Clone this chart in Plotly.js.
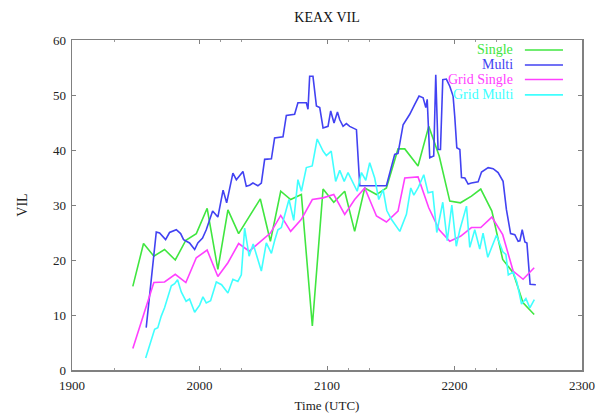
<!DOCTYPE html>
<html>
<head>
<meta charset="utf-8">
<script src="https://cdn.plot.ly/plotly-3.0.1.min.js"></script>
<style>
html,body{margin:0;padding:0;background:#fff;}
#chart{width:603px;height:415px;}
</style>
</head>
<body>
<div id="chart"></div>
<script>
// Time axis values (labels 1900..2300 UTC)
var singleTimes = [1947.7, 1956.1, 1964.2, 1972.6, 1981.0, 1989.3, 1997.5, 2006.0, 2014.4, 2022.3,
  2030.7, 2039.0, 2047.7, 2055.6, 2063.7, 2071.5, 2079.9, 2088.5, 2096.9, 2105.3,
  2113.9, 2121.7, 2129.6, 2138.8, 2146.6, 2155.7, 2161.0, 2171.4, 2179.8, 2188.0,
  2196.3, 2204.7, 2213.3, 2220.6, 2229.3, 2237.8, 2246.0, 2253.8, 2262.5];
var singleVil = [15.2, 23.0, 20.7, 21.9, 20.0, 23.6, 24.8, 29.4, 18.3, 29.1,
  24.8, 27.9, 31.1, 23.4, 32.5, 31.0, 31.9, 8.0, 32.9, 30.5,
  32.5, 25.2, 33.1, 31.9, 33.1, 40.2, 40.2, 37.1, 44.3, 38.9,
  30.7, 30.4, 31.6, 32.9, 28.9, 20.1, 17.7, 12.2, 10.1];
var gridSingleVil = [3.9, 10.2, 15.9, 16.0, 17.4, 15.9, 20.4, 21.8, 17.0, 19.5,
  23.0, 21.6, 23.4, 24.9, 28.1, 25.2, 27.4, 31.0, 31.3, 31.9,
  28.3, 31.0, 33.1, 28.0, 26.9, 28.9, 34.9, 35.1, 29.5, 25.5,
  23.4, 24.3, 25.9, 25.9, 27.8, 24.6, 18.0, 16.5, 18.6];

var multiTimes = [1958.2, 1966.1, 1968.7, 1973.4, 1976.5, 1981.8, 1985.2, 1987.5, 1992.2, 1996.2,
  1998.7, 2002.4, 2005.3, 2007.9, 2010.3, 2014.4, 2018.5, 2021.3, 2026.2, 2028.9,
  2031.4, 2034.1, 2036.7, 2039.3, 2041.9, 2045.8, 2048.5, 2051.1, 2056.4, 2058.9,
  2065.5, 2068.1, 2074.6, 2077.2, 2083.8, 2085.1, 2086.4, 2089.0, 2091.7, 2094.3,
  2096.9, 2100.8, 2102.9, 2105.5, 2108.2, 2110.0, 2112.6, 2115.2, 2117.8, 2123.1,
  2125.7, 2146.6, 2153.1, 2155.7, 2159.7, 2164.9, 2168.8, 2172.2, 2175.4, 2177.5,
  2178.6, 2180.6, 2183.7, 2185.3, 2187.1, 2189.0, 2190.8, 2193.6, 2196.3, 2198.9,
  2200.2, 2201.8, 2204.2, 2205.5, 2208.1, 2210.7, 2213.3, 2218.5, 2221.2, 2226.4,
  2230.3, 2234.2, 2238.1, 2240.7, 2244.0, 2247.3, 2249.9, 2251.3, 2253.1, 2255.2,
  2256.8, 2259.3, 2263.8];
var multiVil = [7.7, 25.1, 24.9, 23.7, 25.0, 25.5, 24.8, 23.7, 23.1, 21.9,
  23.1, 24.0, 25.5, 27.4, 28.9, 27.8, 32.7, 30.4, 35.8, 34.6,
  35.3, 36.1, 33.4, 33.6, 34.0, 33.5, 34.0, 38.3, 38.4, 42.2,
  42.4, 46.3, 46.5, 48.6, 48.6, 47.4, 53.4, 53.4, 48.0, 47.7,
  44.0, 44.3, 47.1, 44.9, 46.9, 45.5, 44.3, 44.8, 44.3, 43.7,
  33.5, 33.5, 39.2, 39.4, 44.6, 46.5, 48.3, 49.8, 49.5, 47.7,
  49.2, 38.6, 38.9, 53.7, 40.1, 40.1, 52.8, 52.9, 51.6, 49.8,
  46.1, 40.4, 40.1, 35.0, 34.9, 33.8, 34.0, 34.2, 36.0, 36.8,
  36.6, 35.9, 34.3, 29.2, 24.8, 24.6, 23.4, 23.5, 25.5, 23.3,
  23.1, 15.6, 15.5];

var gridMultiTimes = [1957.8, 1964.8, 1967.3, 1970.0, 1972.6, 1977.9, 1980.5, 1982.8, 1985.7, 1989.5,
  1992.2, 1996.2, 2000.1, 2002.7, 2005.3, 2008.7, 2013.2, 2017.3, 2022.3, 2026.2,
  2030.1, 2032.8, 2035.4, 2038.9, 2042.1, 2048.5, 2052.4, 2056.4, 2058.9, 2061.5,
  2064.2, 2070.2, 2073.9, 2077.2, 2079.9, 2083.8, 2088.4, 2092.3, 2096.9, 2099.5,
  2103.3, 2106.8, 2110.0, 2113.5, 2116.5, 2120.6, 2123.7, 2127.0, 2130.4, 2133.5,
  2137.4, 2140.6, 2144.0, 2146.9, 2150.5, 2157.1, 2162.3, 2165.7, 2168.1, 2171.4,
  2175.9, 2179.3, 2182.9, 2186.1, 2190.8, 2194.3, 2197.9, 2201.4, 2204.2, 2209.4,
  2212.0, 2215.9, 2219.8, 2222.4, 2226.1, 2232.9, 2237.9, 2240.3, 2242.2, 2246.0,
  2248.9, 2252.6, 2256.0, 2259.1, 2262.6];
var gridMultiVil = [2.2, 7.4, 7.7, 9.8, 11.3, 15.3, 15.7, 16.4, 14.2, 12.5,
  12.9, 10.5, 11.8, 13.3, 12.2, 12.6, 16.0, 15.5, 14.0, 16.5,
  16.1, 17.3, 25.8, 20.7, 22.9, 18.0, 23.1, 21.2, 23.5, 25.5,
  25.9, 31.0, 27.2, 34.6, 32.5, 36.8, 37.1, 42.0, 39.8, 39.0,
  39.8, 34.3, 36.3, 34.3, 35.9, 34.0, 32.5, 35.9, 34.5, 37.7,
  34.9, 31.0, 32.8, 29.0, 27.4, 25.2, 28.3, 33.1, 31.8, 33.1,
  35.5, 32.2, 32.4, 25.0, 30.5, 23.5, 30.0, 22.5, 25.5, 29.8,
  22.3, 25.5, 22.0, 24.9, 20.5, 24.5, 21.5, 21.0, 17.3, 17.8,
  16.0, 12.0, 13.0, 11.3, 12.8];

var seriesNames = ["Single", "Multi", "Grid Single", "Grid Multi"];
var seriesColors = ["#40e640", "#4242f2", "#ff40ff", "#40ffff"];
var xTickVals = [1900, 2000, 2100, 2200, 2300];
var yTickVals = [0, 10, 20, 30, 40, 50, 60];

var serif = "Liberation Serif, Times New Roman, serif";

var xs = [singleTimes, multiTimes, singleTimes, gridMultiTimes];
var ys = [singleVil, multiVil, gridSingleVil, gridMultiVil];
var traces = seriesNames.map(function(n, i) {
  return {x: xs[i], y: ys[i], type: "scatter", mode: "lines", name: n,
    line: {color: seriesColors[i], width: 1.6}, showlegend: false};
});

// legend drawn gnuplot-style: text right-aligned, line sample on the right
var legY = [0.9697, 0.9244, 0.8805, 0.8336];
var annotations = [];
var shapes = [];
seriesNames.forEach(function(n, i) {
  annotations.push({xref: "paper", yref: "paper", x: 0.8685, y: legY[i], xanchor: "right", yanchor: "middle",
    text: n, showarrow: false, font: {family: serif, size: 14, color: seriesColors[i]}});
  shapes.push({type: "line", xref: "paper", yref: "paper", x0: 0.888, x1: 0.9627, y0: legY[i], y1: legY[i],
    line: {color: seriesColors[i], width: 1.6}});
});

var axisCommon = {
  showline: true, linecolor: "#808080", linewidth: 1.5, mirror: "ticks",
  ticks: "inside", ticklen: 4, tickcolor: "#808080", tickwidth: 1,
  showgrid: false, zeroline: false,
  tickfont: {family: serif, size: 13, color: "#222"}
};

var layout = {
  width: 603, height: 415,
  margin: {l: 72, r: 21, t: 40, b: 45},
  paper_bgcolor: "#fff", plot_bgcolor: "#fff",
  title: {text: "KEAX VIL", x: 0.5, xref: "paper", y: 0.958, yanchor: "middle",
    font: {family: serif, size: 14, color: "#111"}},
  xaxis: Object.assign({}, axisCommon, {
    range: [1900, 2300], tickmode: "array", tickvals: xTickVals,
    ticktext: xTickVals.map(String), ticklabelstandoff: 3,
    minor: {tickmode: "array", tickvals: [1933.3, 2016.7, 2033.3, 2116.7, 2133.3, 2216.7, 2233.3],
      ticks: "inside", ticklen: 2, tickcolor: "#999"},
    title: {text: "Time (UTC)", standoff: 9, font: {family: serif, size: 13, color: "#222"}}
  }),
  yaxis: Object.assign({}, axisCommon, {
    range: [0, 60], tickmode: "array", tickvals: yTickVals, ticklabelstandoff: 2,
    title: {text: "VIL", standoff: 22, font: {family: serif, size: 14, color: "#222"}}
  }),
  annotations: annotations,
  shapes: shapes
};

Plotly.newPlot("chart", traces, layout, {displayModeBar: false, staticPlot: true});
</script>
</body>
</html>
